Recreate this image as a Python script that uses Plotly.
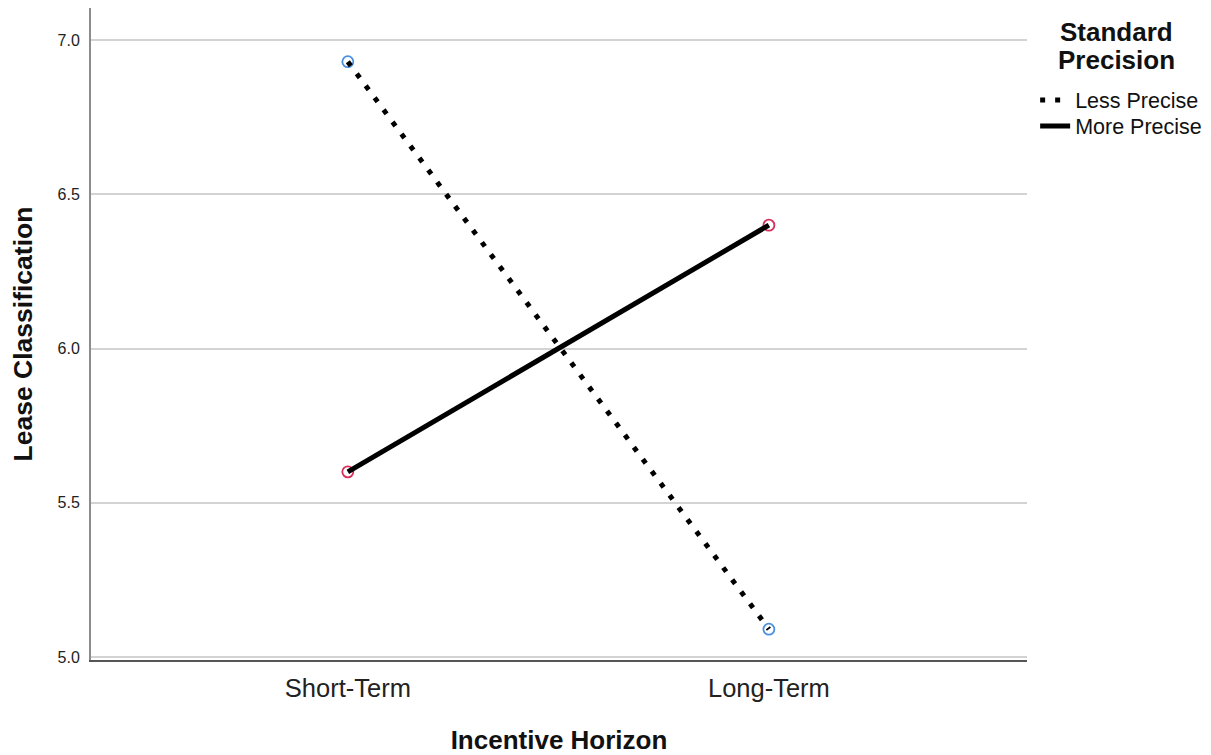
import plotly.graph_objects as go

categories = ["Short-Term", "Long-Term"]
less_precise = [6.93, 5.09]
more_precise = [5.60, 6.40]
series_names = ["Less Precise", "More Precise"]
legend_title_lines = ["Standard", "Precision"]
y_ticks = [5.0, 5.5, 6.0, 6.5, 7.0]
y_tick_labels = ["5.0", "5.5", "6.0", "6.5", "7.0"]

FONT = "Liberation Sans, Arial, sans-serif"
xpos = list(range(len(categories)))

fig = go.Figure()

# markers (not in legend)
fig.add_trace(go.Scatter(x=xpos, y=less_precise, mode="markers", showlegend=False,
                         marker=dict(symbol="circle-open", size=11, color="#4a8fe0",
                                     line=dict(width=1.8, color="#4a8fe0")),
                         hoverinfo="skip"))
fig.add_trace(go.Scatter(x=xpos, y=more_precise, mode="markers", showlegend=False,
                         marker=dict(symbol="circle-open", size=11, color="#d8305c",
                                     line=dict(width=1.8, color="#d8305c")),
                         hoverinfo="skip"))

# lines
fig.add_trace(go.Scatter(x=xpos, y=less_precise, mode="lines", name=series_names[0],
                         legend="legend",
                         line=dict(color="black", width=5, dash="5px,10px")))
fig.add_trace(go.Scatter(x=xpos, y=more_precise, mode="lines", name=series_names[1],
                         legend="legend2",
                         line=dict(color="black", width=5)))

legend_common = dict(xanchor="left", yanchor="middle", bgcolor="rgba(0,0,0,0)",
                     font=dict(size=21.5, color="#111111"))

# page body has an 8px margin, so the figure is sized to fit the window exactly
fig.update_layout(
    width=1203, height=747,
    margin=dict(l=83, r=184, t=0, b=95),
    paper_bgcolor="white", plot_bgcolor="white",
    font=dict(family=FONT, color="#222222"),
    legend=dict(x=1.0087, y=0.859, **legend_common),
    legend2=dict(x=1.0087, y=0.819, **legend_common),
    annotations=[
        dict(text=f"<b>{legend_title_lines[0]}</b>", xref="paper", yref="paper",
             x=1.0951, y=0.9632, xanchor="center", yanchor="middle", showarrow=False,
             font=dict(size=26, color="#111111")),
        dict(text=f"<b>{legend_title_lines[1]}</b>", xref="paper", yref="paper",
             x=1.0951, y=0.9202, xanchor="center", yanchor="middle", showarrow=False,
             font=dict(size=26, color="#111111")),
    ],
)

fig.update_xaxes(
    tickmode="array", tickvals=xpos, ticktext=categories,
    range=[-0.61, 1.613],
    showgrid=False, zeroline=False,
    showline=True, linecolor="#555555", linewidth=2,
    ticks="", tickfont=dict(size=25.5, color="#222222"),
    ticklabelstandoff=4,
    title=dict(text="<b>Incentive Horizon</b>", font=dict(size=26, color="#111111"), standoff=31),
)
fig.update_yaxes(
    tickmode="array", tickvals=y_ticks, ticktext=y_tick_labels,
    range=[4.99, 7.104],
    showgrid=True, gridcolor="#d3d3d3", gridwidth=2,
    zeroline=False,
    showline=True, linecolor="#8c8c8c", linewidth=2,
    ticks="", tickfont=dict(size=16, color="#222222"),
    ticklabelstandoff=6,
    title=dict(text="<b>Lease Classification</b>", font=dict(size=26.5, color="#111111"), standoff=22),
)

fig.write_html("out.html")
